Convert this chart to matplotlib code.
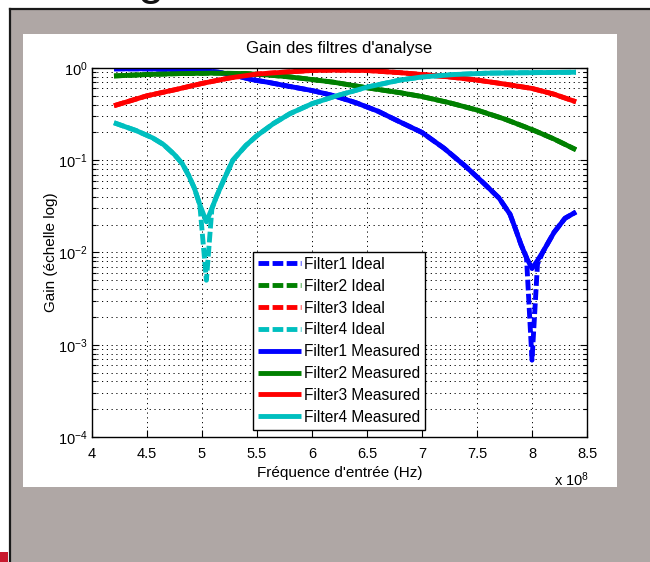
import numpy as np
import matplotlib
matplotlib.use("Agg")
import matplotlib.pyplot as plt
from matplotlib.patches import Rectangle
from matplotlib.lines import Line2D
from matplotlib.ticker import FixedLocator, FuncFormatter, LogLocator, NullFormatter, LogFormatterSciNotation

plt.rcParams['font.family'] = ['Liberation Sans', 'DejaVu Sans']
plt.rcParams['mathtext.fontset'] = 'custom'
plt.rcParams['mathtext.rm'] = 'Liberation Sans'
plt.rcParams['mathtext.it'] = 'Liberation Sans:italic'
plt.rcParams['mathtext.bf'] = 'Liberation Sans:bold'

# ---- data (frequency in units of 1e8 Hz, gain linear) ----
f1_freq = [4.2, 4.5, 4.8, 5.0, 5.15, 5.3, 5.45, 5.6, 5.8, 6.0, 6.2, 6.4, 6.6, 6.8,
           7.0, 7.2, 7.4, 7.55, 7.7, 7.8, 7.85, 7.9, 7.95, 8.0, 8.05, 8.1, 8.2, 8.3, 8.4]
f1_measured = [0.98, 0.98, 0.96, 0.94, 0.90, 0.83, 0.75, 0.70, 0.63, 0.57, 0.50, 0.42, 0.34, 0.26,
               0.20, 0.135, 0.085, 0.058, 0.039, 0.026, 0.018, 0.0122, 0.0088, 0.0067, 0.0082,
               0.0102, 0.0165, 0.0235, 0.0275]
f1_ideal = [0.98, 0.98, 0.96, 0.94, 0.90, 0.83, 0.75, 0.70, 0.63, 0.57, 0.50, 0.42, 0.34, 0.26,
            0.20, 0.135, 0.085, 0.058, 0.039, 0.026, 0.018, 0.0122, 0.0088, 0.00068, 0.0075,
            0.0102, 0.0165, 0.0235, 0.0275]

f2_freq = [4.2, 4.5, 4.8, 5.1, 5.4, 5.6, 5.8, 6.0, 6.2, 6.5, 6.8, 7.0, 7.25, 7.5, 7.75, 8.0, 8.2, 8.4]
f2_measured = [0.82, 0.85, 0.87, 0.88, 0.87, 0.84, 0.80, 0.75, 0.70, 0.61, 0.54, 0.49, 0.42,
               0.35, 0.28, 0.215, 0.17, 0.13]
f2_ideal = [0.82, 0.85, 0.87, 0.88, 0.87, 0.84, 0.80, 0.75, 0.70, 0.61, 0.54, 0.49, 0.42,
            0.35, 0.28, 0.215, 0.17, 0.13]

f3_freq = [4.2, 4.5, 4.75, 5.0, 5.25, 5.5, 5.8, 6.0, 6.2, 6.5, 6.8, 7.0, 7.25, 7.5, 7.75, 8.0, 8.2, 8.4]
f3_measured = [0.39, 0.50, 0.58, 0.68, 0.78, 0.86, 0.91, 0.94, 0.95, 0.94, 0.89, 0.85, 0.80,
               0.74, 0.67, 0.60, 0.52, 0.43]
f3_ideal = [0.39, 0.50, 0.58, 0.68, 0.78, 0.86, 0.91, 0.94, 0.95, 0.94, 0.89, 0.85, 0.80,
            0.74, 0.67, 0.60, 0.52, 0.43]

f4_freq = [4.2, 4.4, 4.55, 4.65, 4.75, 4.82, 4.88, 4.93, 4.98, 5.04, 5.09, 5.13, 5.2, 5.28,
           5.4, 5.5, 5.65, 5.8, 6.0, 6.2, 6.5, 6.8, 7.0, 7.3, 7.6, 8.0, 8.4]
f4_measured = [0.255, 0.21, 0.175, 0.148, 0.115, 0.092, 0.068, 0.050, 0.033, 0.0215, 0.030,
               0.040, 0.062, 0.10, 0.145, 0.185, 0.25, 0.32, 0.41, 0.49, 0.62, 0.74, 0.80,
               0.85, 0.88, 0.89, 0.90]
f4_ideal = [0.255, 0.21, 0.175, 0.148, 0.115, 0.092, 0.068, 0.050, 0.033, 0.005, 0.030,
            0.040, 0.062, 0.10, 0.145, 0.185, 0.25, 0.32, 0.41, 0.49, 0.62, 0.74, 0.80,
            0.85, 0.88, 0.89, 0.90]

colors = ['#0000ff', '#008000', '#ff0000', '#00bfbf']
names = ['Filter1', 'Filter2', 'Filter3', 'Filter4']
x_ticks = [4, 4.5, 5, 5.5, 6, 6.5, 7, 7.5, 8, 8.5]

freqs = [f1_freq, f2_freq, f3_freq, f4_freq]
measured = [f1_measured, f2_measured, f3_measured, f4_measured]
ideal = [f1_ideal, f2_ideal, f3_ideal, f4_ideal]

W, H = 650, 562
fig = plt.figure(figsize=(W / 100, H / 100), dpi=100)
fig.patch.set_facecolor('white')


def box(x0, y0, x1, y1):
    """pixel box (top-left origin) -> figure-fraction rectangle"""
    return [x0 / W, 1 - y1 / H, (x1 - x0) / W, (y1 - y0) / H]


# slide backdrop
r = box(10, 9, 650, 562)
fig.patches.append(Rectangle((r[0], r[1]), r[2], r[3], transform=fig.transFigure,
                             facecolor='#afa7a5', edgecolor='none', zorder=0))
fig.lines.append(Line2D([10 / W, 1], [1 - 9 / H, 1 - 9 / H], transform=fig.transFigure,
                        color='#1a1a1a', lw=1.6, zorder=1))
fig.lines.append(Line2D([10 / W, 10 / W], [0, 1 - 9 / H], transform=fig.transFigure,
                        color='#1a1a1a', lw=1.6, zorder=1))
r = box(0, 552, 8, 562)
fig.patches.append(Rectangle((r[0], r[1]), r[2], r[3], transform=fig.transFigure,
                             facecolor='#c8192e', edgecolor='none', zorder=1))
fig.text(151 / W, 1 + 6 / H, 'g', fontsize=34, ha='center', va='baseline', color='#111111')

# white figure panel
r = box(23, 34, 617, 487)
fig.patches.append(Rectangle((r[0], r[1]), r[2], r[3], transform=fig.transFigure,
                             facecolor='white', edgecolor='none', zorder=1))

ax = fig.add_axes(box(92, 68, 587, 437))
ax.set_zorder(2)
ax.set_facecolor('white')

dash = (0, (2.2, 0.7))
handles = []
for f, v, c, n in zip(freqs, ideal, colors, names):
    h, = ax.plot(np.array(f) * 1e8, v, color=c, lw=3.5, ls=dash, label=n + ' Ideal')
    handles.append(h)
for f, v, c, n in zip(freqs, measured, colors, names):
    h, = ax.plot(np.array(f) * 1e8, v, color=c, lw=3.5, ls='-', label=n + ' Measured',
                 solid_capstyle='butt', solid_joinstyle='round')
    handles.append(h)

ax.set_yscale('log')
ax.set_ylim(1e-4, 1)
ax.set_xlim(4e8, 8.5e8)
ax.xaxis.set_major_locator(FixedLocator([t * 1e8 for t in x_ticks]))
ax.xaxis.set_major_formatter(FuncFormatter(lambda v, p: f"{v / 1e8:g}"))
ax.yaxis.set_major_locator(LogLocator(base=10, numticks=10))
ax.yaxis.set_minor_locator(LogLocator(base=10, subs=np.arange(2, 10), numticks=20))
ax.yaxis.set_minor_formatter(NullFormatter())
ax.yaxis.set_major_formatter(LogFormatterSciNotation())

grid_ls = (0, (1.2, 3.7))
ax.grid(True, which='major', axis='x', color='k', lw=0.7, ls=grid_ls)
ax.grid(True, which='both', axis='y', color='k', lw=0.7, ls=grid_ls)
ax.set_axisbelow(True)

ax.tick_params(which='both', direction='in', top=True, right=True, width=0.8)
ax.tick_params(which='major', length=5, labelsize=10.5)
ax.tick_params(which='minor', length=3)
ax.tick_params(axis='x', pad=7)
ax.tick_params(axis='y', pad=3)
for s in ax.spines.values():
    s.set_linewidth(1.0)

ax.set_title("Gain des filtres d'analyse", fontsize=12, pad=11)
ax.set_xlabel("Fréquence d'entrée (Hz)", fontsize=11, labelpad=4)
ax.set_ylabel("Gain (échelle log)", fontsize=11, labelpad=0)
fig.text(589 / W, 1 - 486 / H, r'x 10$^{8}$', fontsize=10.5, ha='right', va='baseline')

leg = ax.legend(handles=handles, loc='upper left',
                bbox_to_anchor=((252.7 - 92) / 495, (437 - 251.7) / 369),
                borderaxespad=0, fontsize=11.2, handlelength=2.75, handletextpad=0.2,
                labelspacing=0.44, borderpad=0.33, fancybox=False, framealpha=1)
leg.get_frame().set_edgecolor('k')
leg.get_frame().set_linewidth(1.0)

fig.savefig('out.png', dpi=100, facecolor='white')
